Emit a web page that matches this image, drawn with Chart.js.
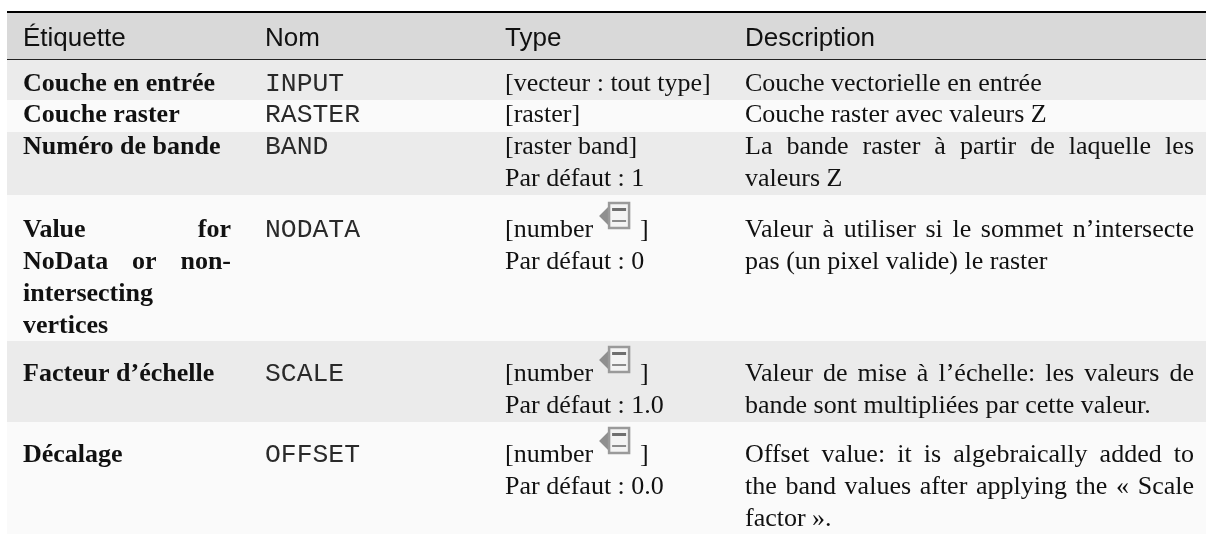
<!DOCTYPE html>
<html lang="fr">
<head>
<meta charset="UTF-8" />
<title>Paramètres</title>
<style>
  * {margin:0; padding:0; box-sizing:border-box;}
  html, body {width:1206px; height:534px; background:#fff; overflow:hidden;}
  #wrap {position:relative; width:1206px; height:534px;}
</style>
</head>
<body>
<div id="wrap"><canvas id="tableChart" width="1206" height="534"></canvas></div>

<script src="https://cdn.jsdelivr.net/npm/chart.js"></script>
<script>
  const headers = ['Étiquette', 'Nom', 'Type', 'Description'];
  const labels = [
    ['Couche en entrée'],
    ['Couche raster'],
    ['Numéro de bande'],
    ['Value for', 'NoData or non-', 'intersecting', 'vertices'],
    ['Facteur d’échelle'],
    ['Décalage']
  ];
  const names = ['INPUT', 'RASTER', 'BAND', 'NODATA', 'SCALE', 'OFFSET'];
  const types = [
    ['[vecteur : tout type]'],
    ['[raster]'],
    ['[raster band]', 'Par défaut : 1'],
    ['[number', 'Par défaut : 0'],
    ['[number', 'Par défaut : 1.0'],
    ['[number', 'Par défaut : 0.0']
  ];
  const hasIcon = [false, false, false, true, true, true];
  const descriptions = [
    ['Couche vectorielle en entrée'],
    ['Couche raster avec valeurs Z'],
    ['La bande raster à partir de laquelle les', 'valeurs Z'],
    ['Valeur à utiliser si le sommet n’intersecte', 'pas (un pixel valide) le raster'],
    ['Valeur de mise à l’échelle: les valeurs de', 'bande sont multipliées par cette valeur.'],
    ['Offset value: it is algebraically added to', 'the band values after applying the « Scale', 'factor ».']
  ];
  // lines stretched to the column width
  const justifiedLabels = ['Value for', 'NoData or non-'];
  const justifiedDescriptions = [
    'La bande raster à partir de laquelle les',
    'Valeur à utiliser si le sommet n’intersecte',
    'Valeur de mise à l’échelle: les valeurs de',
    'Offset value: it is algebraically added to',
    'the band values after applying the « Scale'
  ];

  // layout, in the px units of the two linear axes
  const rowEdges = [59, 100, 132, 195, 341, 422, 534];
  const firstBaseline = [91, 122, 154, 237, 381, 462];
  const lineStep = 32;
  const colX = [23, 265, 505, 745];
  const colEnd = [231, 0, 0, 1194];

  const serif = '"Liberation Serif", serif';
  const sans = '"Liberation Sans", sans-serif';
  const mono = '"Liberation Mono", monospace';

  function putText(ctx, text, x, y, font, right) {
    ctx.font = font;
    ctx.wordSpacing = '0px';
    if (right) {
      const gaps = text.split(' ').length - 1;
      const extra = (right - x - ctx.measureText(text).width) / gaps;
      ctx.wordSpacing = extra + 'px';
    }
    ctx.fillText(text, x, y);
    ctx.wordSpacing = '0px';
  }

  function drawIcon(ctx, x, y) {
    ctx.fillStyle = '#8f8f8f';
    ctx.beginPath();
    ctx.moveTo(x, y + 14);
    ctx.lineTo(x + 11, y + 3);
    ctx.lineTo(x + 11, y + 25);
    ctx.fill();
    ctx.fillStyle = '#f4f4f4';
    ctx.strokeStyle = '#9a9a9a';
    ctx.lineWidth = 2.5;
    ctx.fillRect(x + 10, y + 1, 20, 25);
    ctx.strokeRect(x + 10, y + 1, 20, 25);
    ctx.fillStyle = '#6f6f6f';
    ctx.fillRect(x + 13, y + 6, 14, 3);
    ctx.fillStyle = '#8a8a8a';
    ctx.fillRect(x + 13, y + 18, 14, 2);
  }

  const tablePlugin = {
    id: 'tablePlugin',
    beforeDatasetsDraw(chart) {
      const {ctx, scales: {x, y}} = chart;
      const px = v => x.getPixelForValue(v);
      const py = v => y.getPixelForValue(v);
      ctx.save();
      ctx.textBaseline = 'alphabetic';

      // bands
      ctx.fillStyle = '#d9d9d9';
      ctx.fillRect(px(7), py(13), px(1206) - px(7), py(rowEdges[0]) - py(13));
      for (let r = 0; r < labels.length; r++) {
        ctx.fillStyle = r % 2 === 0 ? '#ebebeb' : '#fafafa';
        ctx.fillRect(px(7), py(rowEdges[r]), px(1206) - px(7), py(rowEdges[r + 1]) - py(rowEdges[r]));
      }

      // rules
      ctx.fillStyle = '#000';
      ctx.fillRect(px(7), py(11), px(1206) - px(7), 2);
      ctx.fillStyle = '#222';
      ctx.fillRect(px(7), py(59), px(1206) - px(7), 1);

      // header
      ctx.fillStyle = '#111';
      headers.forEach((h, c) => putText(ctx, h, px(colX[c]), py(46), '26px ' + sans));

      // cells
      labels.forEach((_, r) => {
        const base = firstBaseline[r];
        labels[r].forEach((t, i) => {
          const right = justifiedLabels.includes(t) ? px(colEnd[0]) : 0;
          putText(ctx, t, px(colX[0]), py(base + i * lineStep), 'bold 26px ' + serif, right);
        });
        ctx.fillStyle = '#2a2a2a';
        putText(ctx, names[r], px(colX[1]), py(base), '26.4px ' + mono);
        ctx.fillStyle = '#111';
        types[r].forEach((t, i) => {
          putText(ctx, t, px(colX[2]), py(base + i * lineStep), '26px ' + serif);
        });
        descriptions[r].forEach((t, i) => {
          const right = justifiedDescriptions.includes(t) ? px(colEnd[3]) : 0;
          putText(ctx, t, px(colX[3]), py(base + i * lineStep), '26px ' + serif, right);
        });
        if (hasIcon[r]) {
          ctx.font = '26px ' + serif;
          const end = px(colX[2]) + ctx.measureText(types[r][0]).width;
          drawIcon(ctx, end + 6, py(base) - 35);
          ctx.fillStyle = '#111';
          ctx.fillText(']', end + 47, py(base));
        }
      });
      ctx.restore();
    }
  };

  new Chart(document.getElementById('tableChart').getContext('2d'), {
    type: 'scatter',
    data: {datasets: [{data: []}]},
    options: {
      responsive: false,
      animation: false,
      layout: {padding: 0},
      plugins: {legend: {display: false}, tooltip: {enabled: false}},
      scales: {
        x: {type: 'linear', min: 0, max: 1206, display: false},
        y: {type: 'linear', min: 0, max: 534, reverse: true, display: false}
      }
    },
    plugins: [tablePlugin]
  });
</script>
</body>
</html>
